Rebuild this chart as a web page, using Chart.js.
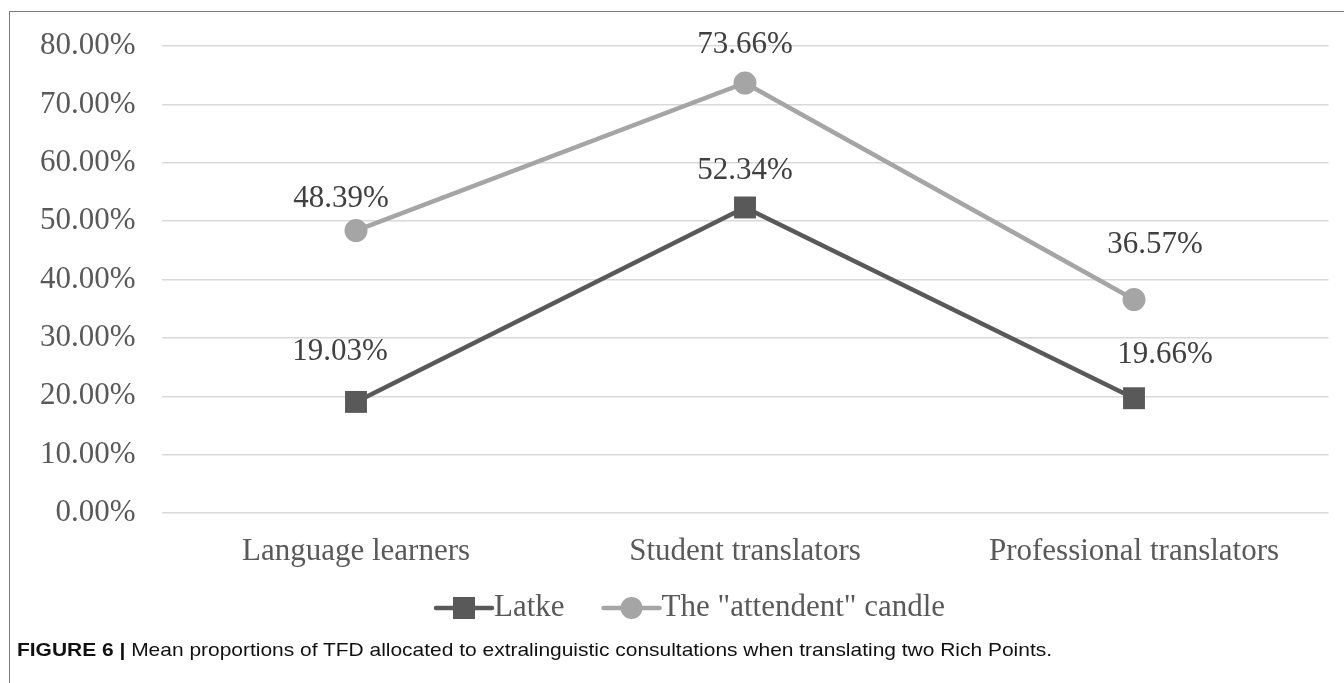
<!DOCTYPE html>
<html>
<head>
<meta charset="utf-8">
<script src="https://cdn.jsdelivr.net/npm/chart.js@4"></script>
<style>
  html, body { margin:0; padding:0; background:#fff; overflow:hidden; }
  body { width:1344px; height:683px; position:relative; }
  #frame { position:absolute; left:9px; top:11px; width:1400px; height:700px; border:1.5px solid #7a7a7a; box-sizing:border-box; }
  #wrap { position:absolute; left:0; top:0; width:1344px; height:683px; }
  #caption { position:absolute; left:17px; top:639px; font-family:"Liberation Sans", Arial, sans-serif; font-size:18.5px; color:#111; white-space:nowrap; transform-origin:0 50%; }
  #caption b { font-weight:bold; }
</style>
</head>
<body>
<div id="frame"></div>
<div id="wrap"><canvas id="c" width="1344" height="683"></canvas></div>
<div id="caption"><b>FIGURE 6</b>&nbsp;<b>|</b>&nbsp;Mean proportions of TFD allocated to extralinguistic consultations when translating two Rich Points.</div>
<script>
const categories = ["Language learners", "Student translators", "Professional translators"];
const latke = [19.03, 52.34, 19.66];
const candle = [48.39, 73.66, 36.57];
const seriesNames = ["Latke", "The \"attendent\" candle"];
const yTicks = [0, 10, 20, 30, 40, 50, 60, 70, 80];

const SERIF = '"Liberation Serif", "Times New Roman", serif';

const labelOffsets = [
  [[-16, -50], [0, -37], [31, -43]],
  [[-15, -32], [0, -38], [21, -55]]
];

// fit caption to reference width
(function () {
  const cap = document.getElementById('caption');
  const w = cap.getBoundingClientRect().width;
  cap.style.transform = 'scaleX(' + (1035 / w) + ')';
})();

const labelPlugin = {
  id: 'pointLabels',
  afterDatasetsDraw(chart) {
    const ctx = chart.ctx;
    ctx.save();
    ctx.font = '31px ' + SERIF;
    ctx.fillStyle = '#404040';
    ctx.textAlign = 'center';
    ctx.textBaseline = 'middle';
    chart.data.datasets.forEach((ds, di) => {
      chart.getDatasetMeta(di).data.forEach((pt, i) => {
        const off = labelOffsets[di][i];
        ctx.fillText(ds.data[i].toFixed(2) + '%', pt.x + off[0], pt.y + off[1]);
      });
    });
    ctx.restore();
  }
};

const legendPlugin = {
  id: 'customLegend',
  afterDraw(chart) {
    const ctx = chart.ctx;
    ctx.save();
    ctx.font = '31px ' + SERIF;
    ctx.textBaseline = 'middle';
    const y = 608;
    let x = 436;
    chart.data.datasets.forEach((ds, di) => {
      const lineLen = 56;
      ctx.strokeStyle = ds.borderColor;
      ctx.lineWidth = 4.5;
      ctx.lineCap = 'round';
      ctx.beginPath(); ctx.moveTo(x, y); ctx.lineTo(x + lineLen, y); ctx.stroke();
      ctx.fillStyle = ds.pointBackgroundColor;
      const cx = x + lineLen / 2;
      if (ds.pointStyle === 'rect') {
        ctx.fillRect(cx - 11, y - 11, 22, 22);
      } else {
        ctx.beginPath(); ctx.arc(cx, y, 11, 0, Math.PI * 2); ctx.fill();
      }
      ctx.fillStyle = '#595959';
      ctx.textAlign = 'left';
      const tx = x + lineLen + 2;
      ctx.fillText(ds.label, tx, y);
      x = tx + ctx.measureText(ds.label).width + 39;
    });
    ctx.restore();
  }
};

new Chart(document.getElementById('c'), {
  type: 'line',
  data: {
    labels: categories,
    datasets: [
      {
        label: seriesNames[0],
        data: latke,
        borderColor: '#595959',
        backgroundColor: '#595959',
        pointBackgroundColor: '#595959',
        pointBorderColor: '#595959',
        borderWidth: 4.5,
        pointStyle: 'rect',
        pointRadius: 15.5,
        pointBorderWidth: 0,
        tension: 0
      },
      {
        label: seriesNames[1],
        data: candle,
        borderColor: '#a5a5a5',
        backgroundColor: '#a5a5a5',
        pointBackgroundColor: '#a5a5a5',
        pointBorderColor: '#a5a5a5',
        borderWidth: 4.5,
        pointStyle: 'circle',
        pointRadius: 11.5,
        pointBorderWidth: 0,
        tension: 0
      }
    ]
  },
  options: {
    responsive: false,
    animation: false,
    events: [],
    layout: { padding: { top: 46, right: 15.5, left: 0, bottom: 0 } },
    plugins: { legend: { display: false }, tooltip: { enabled: false } },
    scales: {
      x: {
        offset: true,
        grid: { display: false, drawTicks: false },
        border: { display: false },
        ticks: { color: '#595959', font: { family: SERIF, size: 31 }, padding: 20, maxRotation: 0 },
        afterFit(scale) { scale.height = 683 - 46 - 467 - 0; }
      },
      y: {
        min: 0, max: 80,
        afterBuildTicks(scale) { scale.ticks = yTicks.map(v => ({ value: v })); },
        grid: { color: '#d9d9d9', lineWidth: 1.5, drawTicks: false },
        border: { display: false },
        ticks: {
          color: '#595959', font: { family: SERIF, size: 31 }, padding: 26,
          callback: v => v.toFixed(2) + '%'
        },
        afterFit(scale) { scale.width = 161.5; }
      }
    }
  },
  plugins: [labelPlugin, legendPlugin]
});
</script>
</body>
</html>
